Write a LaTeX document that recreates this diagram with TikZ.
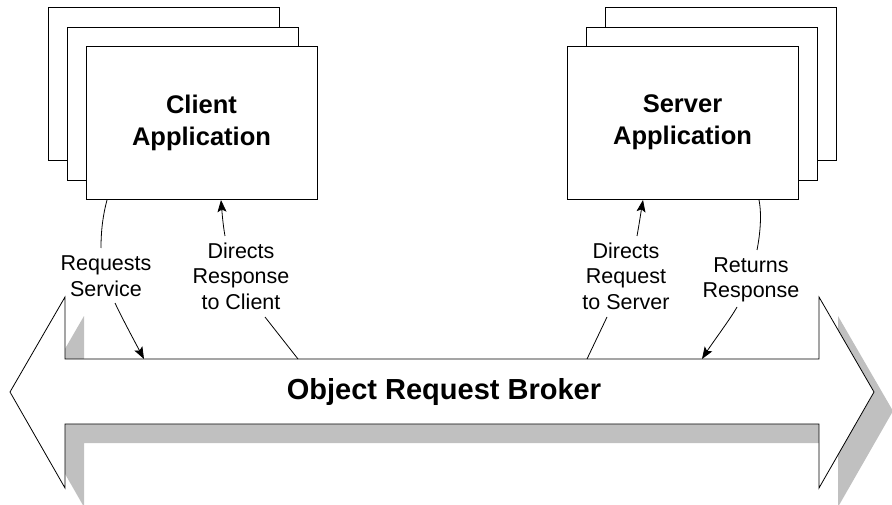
\documentclass[tikz,border=0pt]{standalone}
\usepackage{fontspec}
\setmainfont{Liberation Sans}
\usetikzlibrary{arrows.meta}
\definecolor{shadowgray}{HTML}{C0C0C0}
\tikzset{
  appbox/.style={draw=black, line width=0.9pt, fill=white, rectangle,
    minimum width=231pt, minimum height=153pt, inner sep=0pt, align=center,
    font=\fontsize{25.5}{32}\selectfont\bfseries},
  lbl/.style={align=center, inner sep=0pt, font=\fontsize{21.5}{25.5}\selectfont},
  conn/.style={draw=black, line width=0.8pt},
  tip/.style={-{Stealth[length=12pt,width=9pt,inset=2.5pt]}},
}
\begin{document}
\begin{tikzpicture}[x=1pt,y=-1pt]
\useasboundingbox (0,0) rectangle (892,505);
% broker arrow shadow and body
\fill[shadowgray] (29,411) -- (84,316) -- (84,378) -- (838,378) -- (838,316) -- (893,411)
  -- (838,507) -- (838,443) -- (84,443) -- (84,507) -- cycle;
\draw[fill=white, line width=0.8pt] (10,392) -- (65,297) -- (65,359) -- (819,359) -- (819,297)
  -- (874,392) -- (819,488) -- (819,424) -- (65,424) -- (65,488) -- cycle;
\node[font=\fontsize{29}{34}\selectfont\bfseries, anchor=base] (orb) at (444,399.5) {Object Request Broker};
% client stack
\node[appbox] (cback) at (163.5,84) {};
\node[appbox] (cmid) at (182.5,103.5) {};
\node[appbox] (client) at (201.5,122.5) {Client\\Application};
% server stack
\node[appbox] (sback) at (720.5,84) {};
\node[appbox] (smid) at (701.5,103.5) {};
\node[appbox] (server) at (682.5,122.5) {Server\\Application};
% labels
\node[lbl] (reqsvc) at (106,276) {Requests\\Service};
\node[lbl] (dirresp) at (241,276) {Directs\\Response\\to Client};
\node[lbl] (dirreq) at (626,276) {Directs\\Request\\to Server};
\node[lbl] (retresp) at (751,280) {Returns\\Response};
% connector end points
\coordinate (a1) at (107,200);
\coordinate (a2) at (101,248);
\coordinate (a3) at (115,303);
\coordinate (a4) at (144,359);
\coordinate (b1) at (221,200);
\coordinate (b2) at (225,236);
\coordinate (b3) at (265,317);
\coordinate (b4) at (298,359);
\coordinate (c1) at (643,200);
\coordinate (c2) at (637,236);
\coordinate (c3) at (607,317);
\coordinate (c4) at (587,359);
\coordinate (d1) at (759,200);
\coordinate (d2) at (757,250);
\coordinate (d3) at (737,307);
\coordinate (d4) at (702,359);
% connectors
\draw[conn] (a1) .. controls (103,215) and (101,230) .. (a2);
\draw[conn, tip] (a3) .. controls (122,318) and (136,344) .. (a4);
\draw[conn, tip] (b2) .. controls (223,225) and (222,212) .. (b1);
\draw[conn] (b3) -- (b4);
\draw[conn, tip] (c2) .. controls (639,225) and (641,212) .. (c1);
\draw[conn] (c3) -- (c4);
\draw[conn] (d1) .. controls (762,215) and (760,235) .. (d2);
\draw[conn, tip] (d3) .. controls (731,318) and (713,342) .. (d4);
\end{tikzpicture}
\end{document}
